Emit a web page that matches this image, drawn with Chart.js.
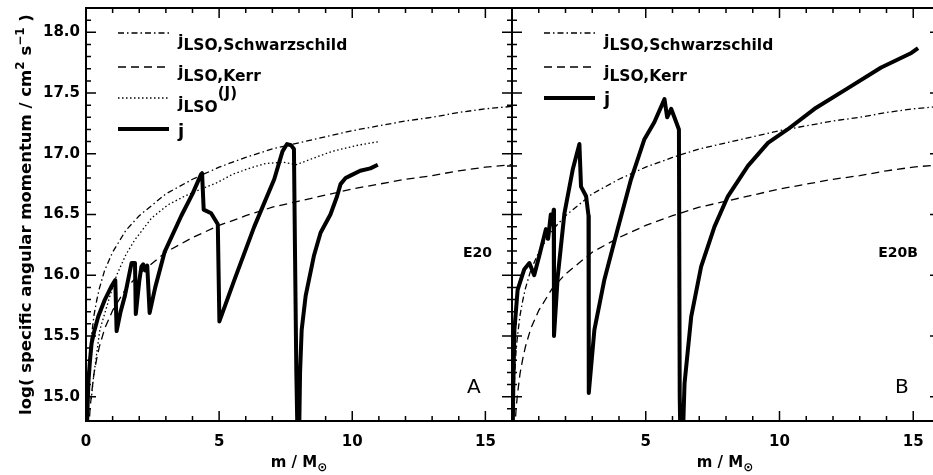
<!DOCTYPE html>
<html>
<head>
<meta charset="utf-8">
<script src="https://cdn.jsdelivr.net/npm/chart.js@4"></script>
<style>
html,body{margin:0;padding:0;background:#fff;overflow:hidden;width:933px;height:475px}
#wrapL{position:absolute;left:0;top:0;width:514px;height:475px}
#wrapR{position:absolute;left:506px;top:0;width:445px;height:475px}
</style>
</head>
<body>
<div id="wrapL"><canvas id="left"></canvas></div>
<div id="wrapR"><canvas id="right"></canvas></div>
<script>
// shared LSO curves (m in solar masses, log j)
const mGrid = [0.05,0.1,0.15,0.2,0.3,0.4,0.5,0.7,1,1.5,2,3,4,5,6,7,8,9,10,11,12,13,14,15,16]
const jSchw = [14.89,15.19,15.37,15.49,15.67,15.79,15.89,16.04,16.19,16.37,16.49,16.67,16.79,16.89,16.97,17.04,17.09,17.14,17.19,17.23,17.27,17.30,17.34,17.37,17.39]
const jKerr = [14.41,14.71,14.89,15.01,15.19,15.31,15.41,15.56,15.71,15.89,16.01,16.19,16.31,16.41,16.49,16.56,16.61,16.66,16.71,16.75,16.79,16.82,16.86,16.89,16.91]

// panel A: j_LSO(J)
const mJ = [0.2,0.27,0.52,0.9,1.15,1.5,1.83,2.46,3.08,3.7,4.32,4.9,5.5,6.13,6.75,7.4,7.9,8.5,9.25,10.2,11.0]
const jLsoJ = [14.98,15.14,15.55,15.83,16.0,16.17,16.29,16.47,16.58,16.65,16.71,16.76,16.83,16.88,16.92,16.93,16.91,16.96,17.02,17.07,17.10]

// panel A: j (E20)
const mLeft = [0.02,0.05,0.09,0.15,0.21,0.3,0.46,0.71,0.96,1.1,1.15,1.3,1.46,1.71,1.84,1.87,2.0,2.08,2.15,2.22,2.3,2.39,2.6,2.95,3.58,4.0,4.32,4.36,4.42,4.7,4.95,5.01,5.57,6.32,7.07,7.38,7.55,7.7,7.81,7.85,7.9,7.95,8.0,8.04,8.1,8.25,8.56,8.81,9.18,9.43,9.56,9.75,9.93,10.3,10.68,10.96]
const jLeft = [14.6,14.85,15.12,15.3,15.44,15.53,15.66,15.8,15.91,15.96,15.54,15.7,15.83,16.1,16.1,15.68,15.95,16.07,16.09,16.04,16.08,15.69,15.9,16.19,16.49,16.67,16.83,16.84,16.54,16.51,16.42,15.62,15.96,16.40,16.79,17.02,17.08,17.07,17.04,16.19,15.2,14.6,14.6,15.2,15.55,15.83,16.16,16.35,16.50,16.65,16.75,16.80,16.82,16.86,16.88,16.91]

// panel B: j (E20B)
const mRight = [0.02,0.05,0.09,0.21,0.46,0.65,0.83,1.02,1.27,1.35,1.45,1.5,1.56,1.57,1.71,1.96,2.27,2.52,2.58,2.77,2.86,2.87,3.08,3.45,3.95,4.45,4.95,5.32,5.70,5.80,5.95,6.14,6.24,6.27,6.3,6.38,6.42,6.45,6.70,7.07,7.57,8.07,8.82,9.57,10.3,11.31,12.56,13.8,14.93,15.18]
const jRight = [14.6,15.1,15.55,15.88,16.05,16.10,16.0,16.16,16.38,16.3,16.5,16.42,16.54,15.5,15.99,16.51,16.87,17.08,16.73,16.65,16.49,15.03,15.55,15.96,16.38,16.79,17.12,17.26,17.45,17.30,17.37,17.26,17.2,15.0,14.6,14.6,14.9,15.11,15.66,16.07,16.40,16.65,16.90,17.09,17.2,17.37,17.54,17.71,17.83,17.87]

const yTicks = [15.0,15.5,16.0,16.5,17.0,17.5,18.0]
const xTicksLeft = [0,5,10,15]
const xTicksRight = [5,10,15]

const FONT = '"DejaVu Sans", sans-serif'

function pts(xs, ys){ return xs.map((v,i) => ({x:v, y:ys[i]})) }

function line(data, width, dash){
  return {data: data, borderColor:'#000', borderWidth:width, borderDash:dash, pointRadius:0,
    tension:0, fill:false, clip:0, borderJoinStyle:'round', borderCapStyle:'butt'}
}

function rich(ctx, x, y, parts, align){
  let w = 0
  parts.forEach(p => { ctx.font = 'bold ' + p[1] + 'px ' + FONT; w += ctx.measureText(p[0]).width })
  let cx = align === 'center' ? x - w/2 : (align === 'right' ? x - w : x)
  ctx.textAlign = 'left'
  ctx.textBaseline = 'alphabetic'
  parts.forEach(p => {
    ctx.font = 'bold ' + p[1] + 'px ' + FONT
    ctx.fillText(p[0], cx, y + p[2])
    cx += ctx.measureText(p[0]).width
  })
}

const DASHDOT = [6,3,1.5,3]
const DASHED = [8,5]
const DOTTED = [1.5,2.5]

function decor(opts){
  return {
    id:'decor',
    afterDatasetsDraw(chart){
      const {ctx, chartArea:a, scales:{x, y}} = chart
      ctx.save()
      ctx.fillStyle = '#000'
      ctx.strokeStyle = '#000'
      // frame
      ctx.lineWidth = 2
      ctx.setLineDash([])
      ctx.strokeRect(a.left, a.top, a.right - a.left, a.bottom - a.top)
      // inward ticks
      ctx.lineWidth = 1.5
      ctx.beginPath()
      for (let v = 0; v <= 16; v++){
        const px = x.getPixelForValue(v)
        const len = v % 5 === 0 ? 10 : 5
        ctx.moveTo(px, a.bottom); ctx.lineTo(px, a.bottom - len)
        ctx.moveTo(px, a.top); ctx.lineTo(px, a.top + len)
      }
      for (let i = 148; i <= 182; i++){
        const py = y.getPixelForValue(i / 10)
        const len = i % 5 === 0 ? 10 : 5
        ctx.moveTo(a.left, py); ctx.lineTo(a.left + len, py)
        ctx.moveTo(a.right, py); ctx.lineTo(a.right - len, py)
      }
      ctx.stroke()
      // legend
      const lx0 = a.left + 32, lx1 = a.left + 83, tx = a.left + 92
      opts.legend.forEach(r => {
        ctx.lineWidth = r.w
        ctx.setLineDash(r.dash)
        ctx.beginPath(); ctx.moveTo(lx0, r.y); ctx.lineTo(lx1, r.y); ctx.stroke()
        ctx.setLineDash([])
        rich(ctx, tx, r.ty, r.parts, 'left')
      })
      // labels
      rich(ctx, a.left + opts.tag[0], opts.tag[1], [[opts.tag[2], 14, 0]], 'right')
      ctx.font = '20px ' + FONT
      ctx.textAlign = 'left'
      ctx.fillText(opts.letter[2], a.left + opts.letter[0], opts.letter[1])
      // x title
      const cx = (a.left + a.right) / 2
      rich(ctx, opts.xtitleX, 467, [['m / M', 15, 0], ['\u2299', 12, 4]], 'center')
      // y title
      if (opts.ytitle){
        ctx.translate(31, (a.top + a.bottom) / 2)
        ctx.rotate(-Math.PI / 2)
        rich(ctx, 0, 0, [['log( specific angular momentum / cm', 16.5, 0], ['2', 12, -7], [' s', 16.5, 0], ['\u22121', 12, -7], [' )', 16.5, 0]], 'center')
      }
      ctx.restore()
    }
  }
}

const tickFont = {family:'DejaVu Sans', size:15, weight:'bold'}

function scales(xt, showY){
  return {
    x:{type:'linear', min:0, max:16,
      afterBuildTicks: s => { s.ticks = xt.map(v => ({value:v})) },
      afterFit: s => { s.height = 54; s.paddingLeft = 0; s.paddingRight = 0 },
      ticks:{font:tickFont, color:'#000', padding:12, maxRotation:0, autoSkip:false, callback: v => String(v)},
      grid:{display:false, drawTicks:false}, border:{display:false}},
    y:{type:'linear', min:14.8, max:18.2, display:showY,
      afterBuildTicks: s => { s.ticks = yTicks.map(v => ({value:v})) },
      afterFit: s => { s.width = showY ? 86 : 0; s.paddingTop = 0; s.paddingBottom = 0 },
      ticks:{font:tickFont, color:'#000', padding:6, autoSkip:false, callback: v => v.toFixed(1)},
      grid:{display:false, drawTicks:false}, border:{display:false}}
  }
}

new Chart(document.getElementById('left'), {
  type:'line',
  data:{datasets:[
    line(pts(mGrid, jSchw), 1.3, DASHDOT),
    line(pts(mGrid, jKerr), 1.3, DASHED),
    line(pts(mJ, jLsoJ), 1.3, DOTTED),
    line(pts(mLeft, jLeft), 4, [])
  ]},
  options:{
    responsive:true, maintainAspectRatio:false, animation:false,
    layout:{padding:{left:0, right:2, top:8, bottom:0}},
    plugins:{legend:{display:false}, tooltip:{enabled:false}},
    scales:scales(xTicksLeft, true)
  },
  plugins:[decor({
    ytitle:true,
    xtitleX:299,
    tag:[406, 257, 'E20'],
    letter:[381, 393, 'A'],
    legend:[
      {y:33, w:1.3, dash:DASHDOT, ty:46, parts:[['j',16,0],['LSO,Schwarzschild',15.5,4]]},
      {y:67, w:1.3, dash:DASHED, ty:77, parts:[['j',16,0],['LSO,Kerr',15.5,4]]},
      {y:98, w:1.3, dash:DOTTED, ty:108, parts:[['j',16,0],['LSO',15.5,4],['(J)',15,-10]]},
      {y:129, w:4, dash:[], ty:137, parts:[['j',18,0]]}
    ]
  })]
})

new Chart(document.getElementById('right'), {
  type:'line',
  data:{datasets:[
    line(pts(mGrid, jSchw), 1.3, DASHDOT),
    line(pts(mGrid, jKerr), 1.3, DASHED),
    line(pts(mRight, jRight), 4, [])
  ]},
  options:{
    responsive:true, maintainAspectRatio:false, animation:false,
    layout:{padding:{left:6, right:11, top:8, bottom:0}},
    plugins:{legend:{display:false}, tooltip:{enabled:false}},
    scales:scales(xTicksRight, false)
  },
  plugins:[decor({
    ytitle:false,
    xtitleX:219,
    tag:[406, 257, 'E20B'],
    letter:[383, 393, 'B'],
    legend:[
      {y:33, w:1.3, dash:DASHDOT, ty:46, parts:[['j',16,0],['LSO,Schwarzschild',15.5,4]]},
      {y:67, w:1.3, dash:DASHED, ty:77, parts:[['j',16,0],['LSO,Kerr',15.5,4]]},
      {y:98, w:4, dash:[], ty:105, parts:[['j',18,0]]}
    ]
  })]
})
</script>
</body>
</html>
